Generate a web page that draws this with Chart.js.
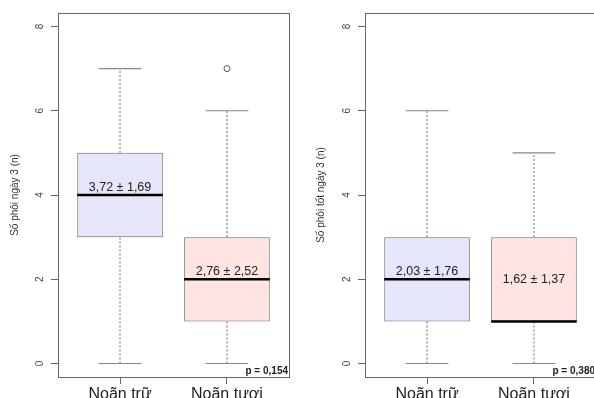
<!DOCTYPE html>
<html>
<head>
<meta charset="utf-8">
<script src="https://cdn.jsdelivr.net/npm/chart.js@4/dist/chart.umd.min.js"></script>
<style>
  body { margin: 0; width: 594px; height: 398px; overflow: hidden; position: relative; background: #fff; }
  canvas { position: absolute; top: 0; }
</style>
</head>
<body>
<canvas id="c1" width="297" height="398" style="left:0"></canvas>
<canvas id="c2" width="300" height="398" style="left:297px"></canvas>
<script>
// số liệu
const categories = ['Noãn trữ', 'Noãn tươi'];
const yTicks = [0, 2, 4, 6, 8];

// biểu đồ trái: số phôi ngày 3
const p1Min = [0, 0];
const p1Q1 = [3, 1];
const p1Median = [4, 2];
const p1Q3 = [5, 3];
const p1Max = [7, 6];
const p1Outliers = [[], [7]];
const p1Labels = ['3,72 ± 1,69', '2,76 ± 2,52'];
const p1P = 'p = 0,154';

// biểu đồ phải: số phôi tốt ngày 3
const p2Min = [0, 0];
const p2Q1 = [1, 1];
const p2Median = [2, 1];
const p2Q3 = [3, 3];
const p2Max = [6, 5];
const p2Outliers = [[], []];
const p2Labels = ['2,03 ± 1,76', '1,62 ± 1,37'];
const p2P = 'p = 0,380';

const FONT = '"Liberation Sans", Arial, sans-serif';
const boxColors = ['#e6e6fa', '#ffe4e1'];
const GREY = '#666';

// khung + nhãn trục y xoay + chú thích
const rPlot = {
  id: 'rPlot',
  afterDraw(chart, args, opts) {
    const { ctx, chartArea: a, scales: { y } } = chart;
    ctx.save();
    ctx.strokeStyle = GREY;
    ctx.lineWidth = 1;
    ctx.strokeRect(a.left + 0.5, a.top + 0.5, a.right - a.left, a.bottom - a.top);

    ctx.fillStyle = '#444';
    ctx.font = '10px ' + FONT;
    ctx.textAlign = 'center';
    ctx.textBaseline = 'middle';
    yTicks.forEach(v => {
      ctx.save();
      ctx.translate(a.left - 18, y.getPixelForValue(v));
      ctx.rotate(-Math.PI / 2);
      ctx.fillText(String(v), 0, 0);
      ctx.restore();
    });

    ctx.fillStyle = '#222';
    ctx.font = '12.5px ' + FONT;
    opts.labels.forEach((t, i) => {
      const px = chart.scales.x.getPixelForValue(i + 1);
      if (opts.labelPos[i] === 'middle') {
        ctx.textBaseline = 'middle';
        ctx.fillText(t, px, y.getPixelForValue((opts.q1[i] + opts.q3[i]) / 2));
      } else {
        ctx.textBaseline = 'alphabetic';
        ctx.fillText(t, px, y.getPixelForValue(opts.median[i]) - 4.5);
      }
    });

    ctx.font = 'bold 10px ' + FONT;
    ctx.textAlign = 'right';
    ctx.textBaseline = 'alphabetic';
    ctx.fillText(opts.p, a.right - 1, a.bottom - 3);
    ctx.restore();
  }
};

function segs(pairs) {
  const out = [];
  pairs.forEach(p => { out.push(p[0], p[1], { x: p[0].x, y: null }); });
  return out;
}

function makeChart(id, d) {
  const n = categories.length;
  const idx = [...Array(n).keys()];
  const medians = segs(idx.map(i => [{ x: i + 0.6, y: d.median[i] }, { x: i + 1.4, y: d.median[i] }]));
  const caps = segs(idx.flatMap(i => [
    [{ x: i + 0.8, y: d.max[i] }, { x: i + 1.2, y: d.max[i] }],
    [{ x: i + 0.8, y: d.min[i] }, { x: i + 1.2, y: d.min[i] }]
  ]));
  const whiskers = segs(idx.flatMap(i => [
    [{ x: i + 1, y: d.q3[i] }, { x: i + 1, y: d.max[i] }],
    [{ x: i + 1, y: d.min[i] }, { x: i + 1, y: d.q1[i] }]
  ]));
  const outliers = idx.flatMap(i => d.out[i].map(v => ({ x: i + 1, y: v })));

  return new Chart(document.getElementById(id), {
    type: 'bar',
    data: {
      datasets: [
        { type: 'line', data: medians, borderColor: '#000', borderWidth: 2.5, pointRadius: 0, order: 0 },
        { type: 'line', data: caps, borderColor: '#888', borderWidth: 1.2, pointRadius: 0, order: 1 },
        { type: 'line', data: whiskers, borderColor: '#666', borderWidth: 1, borderDash: [2, 2], pointRadius: 0, order: 2 },
        { type: 'scatter', data: outliers, pointRadius: 3, pointBackgroundColor: 'rgba(0,0,0,0)', pointBorderColor: '#555', pointBorderWidth: 1, order: 3 },
        {
          type: 'bar',
          data: idx.map(i => ({ x: i + 1, y: [d.q1[i], d.q3[i]] })),
          backgroundColor: boxColors, borderColor: GREY, borderWidth: 1, borderSkipped: false,
          categoryPercentage: 1, barPercentage: 0.8, order: 5
        }
      ]
    },
    options: {
      responsive: false,
      devicePixelRatio: 1,
      animation: false,
      layout: { padding: d.pad },
      plugins: {
        legend: { display: false },
        tooltip: { enabled: false },
        rPlot: { labels: d.labels, labelPos: d.labelPos, median: d.median, q1: d.q1, q3: d.q3, p: d.p }
      },
      scales: {
        x: {
          type: 'linear', min: 0.42, max: 2.58, offset: false,
          afterBuildTicks: s => { s.ticks = idx.map(i => ({ value: i + 1 })); },
          afterFit: s => { s.height = 21; },
          grid: { offset: false, drawOnChartArea: false, tickLength: 7, color: GREY },
          border: { display: false },
          ticks: {
            autoSkip: false, maxRotation: 0, padding: 1, color: '#222',
            font: { size: 16, family: FONT },
            callback: v => categories[v - 1]
          }
        },
        y: {
          min: -0.32, max: 8.32,
          afterBuildTicks: s => { s.ticks = yTicks.map(v => ({ value: v })); },
          afterFit: s => { s.width = d.yWidth; },
          grid: { drawOnChartArea: false, tickLength: 7, color: GREY },
          border: { display: false },
          ticks: { display: false },
          title: {
            display: true, text: d.title, color: '#333',
            font: { size: 10, family: FONT }, padding: { top: d.titlePad, bottom: 0 }
          }
        }
      }
    },
    plugins: [rPlot]
  });
}

makeChart('c1', {
  min: p1Min, q1: p1Q1, median: p1Median, q3: p1Q3, max: p1Max, out: p1Outliers,
  labels: p1Labels, labelPos: ['above', 'above'], p: p1P,
  title: 'Số phôi ngày 3 (n)', titlePad: 9, yWidth: 58,
  pad: { top: 13, right: 8, left: 0, bottom: 0 }
});
makeChart('c2', {
  min: p2Min, q1: p2Q1, median: p2Median, q3: p2Q3, max: p2Max, out: p2Outliers,
  labels: p2Labels, labelPos: ['above', 'middle'], p: p2P,
  title: 'Số phôi tốt ngày 3 (n)', titlePad: 18, yWidth: 68,
  pad: { top: 13, right: 1, left: 0, bottom: 0 }
});
</script>
</body>
</html>
